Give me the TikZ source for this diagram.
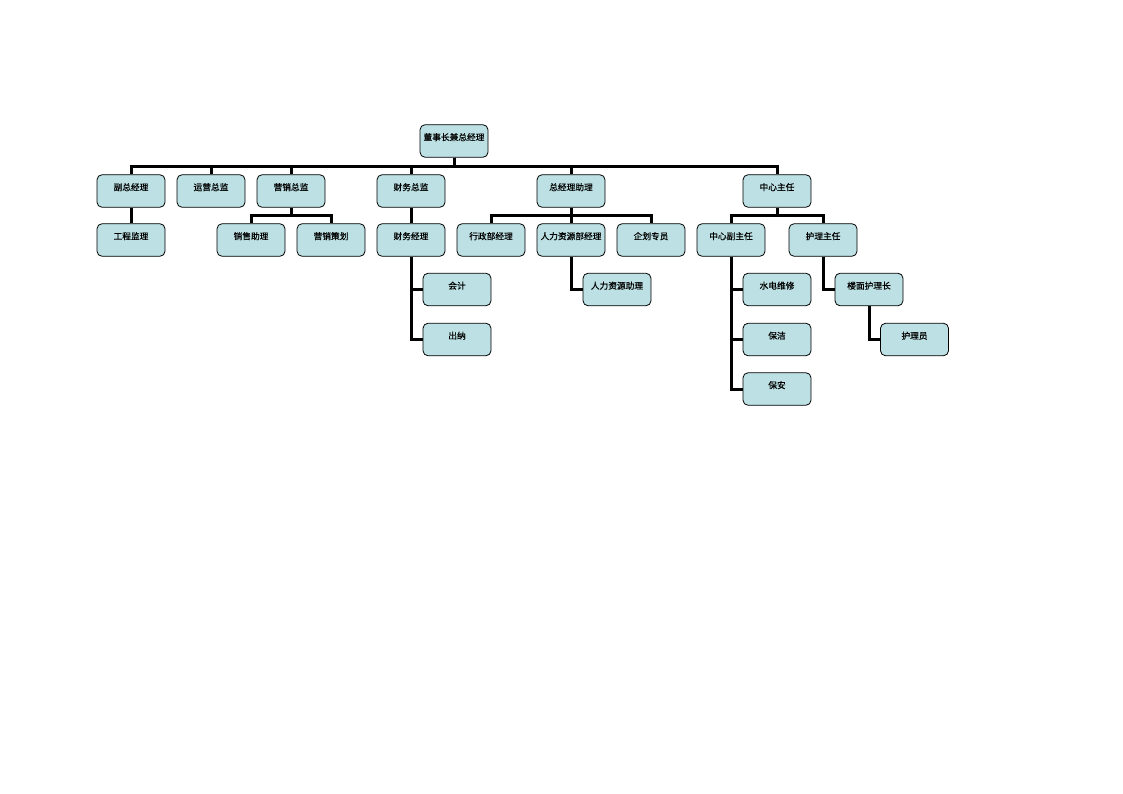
\documentclass[tikz,border=0pt]{standalone}
\usepackage{fontspec}
\newfontfamily\cjk[FakeBold=0.6]{Noto Sans CJK SC}
\definecolor{boxfill}{RGB}{188,224,227}
\begin{document}
\begin{tikzpicture}[x=1pt,y=-1pt,
  orgbox/.style={draw=black, fill=boxfill, rounded corners=5pt, minimum width=68pt, minimum height=32.5pt,
    inner sep=0pt, line width=0.8pt, font=\cjk\fontsize{8.7}{10}\selectfont, text height=5pt, text depth=6pt},
  conn/.style={line width=3pt}]
\useasboundingbox (0,0) rectangle (1123,794);
% top
\node[orgbox] (ceo) at (454,141) {董事长兼总经理};
% row 1
\node[orgbox] (fzjl) at (131,191) {副总经理};
\node[orgbox] (yyzj) at (211,191) {运营总监};
\node[orgbox] (yxzj) at (291,191) {营销总监};
\node[orgbox] (cwzj) at (411,191) {财务总监};
\node[orgbox] (zjlzl) at (571,191) {总经理助理};
\node[orgbox] (zxzr) at (777,191) {中心主任};
% row 2
\node[orgbox] (gcjl) at (131,240) {工程监理};
\node[orgbox] (xszl) at (251,240) {销售助理};
\node[orgbox] (yxch) at (331,240) {营销策划};
\node[orgbox] (cwjl) at (411,240) {财务经理};
\node[orgbox] (xzjl) at (491,240) {行政部经理};
\node[orgbox] (rljl) at (571,240) {人力资源部经理};
\node[orgbox] (qhzy) at (651,240) {企划专员};
\node[orgbox] (zxfzr) at (731,240) {中心副主任};
\node[orgbox] (hlzr) at (823,240) {护理主任};
% row 3
\node[orgbox] (kj) at (457,289.5) {会计};
\node[orgbox] (rlzl) at (617,289.5) {人力资源助理};
\node[orgbox] (sdwx) at (777,289.5) {水电维修};
\node[orgbox] (lmhlz) at (869,289.5) {楼面护理长};
% row 4
\node[orgbox] (cn) at (457,339.5) {出纳};
\node[orgbox] (bj) at (777,339.5) {保洁};
\node[orgbox] (hly) at (914.5,339.5) {护理员};
% row 5
\node[orgbox] (ba) at (777,389) {保安};
% connectors
\foreach \c in {fzjl,yyzj,yxzj,cwzj,zjlzl,zxzr}
  \draw[conn] (ceo.south) -- ++(0,9) -| (\c.north);
\draw[conn] (fzjl.south) -- (gcjl.north);
\foreach \c in {xszl,yxch}
  \draw[conn] (yxzj.south) -- ++(0,8) -| (\c.north);
\draw[conn] (cwzj.south) -- (cwjl.north);
\foreach \c in {xzjl,rljl,qhzy}
  \draw[conn] (zjlzl.south) -- ++(0,8) -| (\c.north);
\foreach \c in {zxfzr,hlzr}
  \draw[conn] (zxzr.south) -- ++(0,8) -| (\c.north);
\foreach \c in {kj,cn}
  \draw[conn] (cwjl.south) |- (\c.west);
\draw[conn] (rljl.south) |- (rlzl.west);
\foreach \c in {sdwx,bj,ba}
  \draw[conn] (zxfzr.south) |- (\c.west);
\draw[conn] (hlzr.south) |- (lmhlz.west);
\draw[conn] (lmhlz.south) |- (hly.west);
\end{tikzpicture}
\end{document}
